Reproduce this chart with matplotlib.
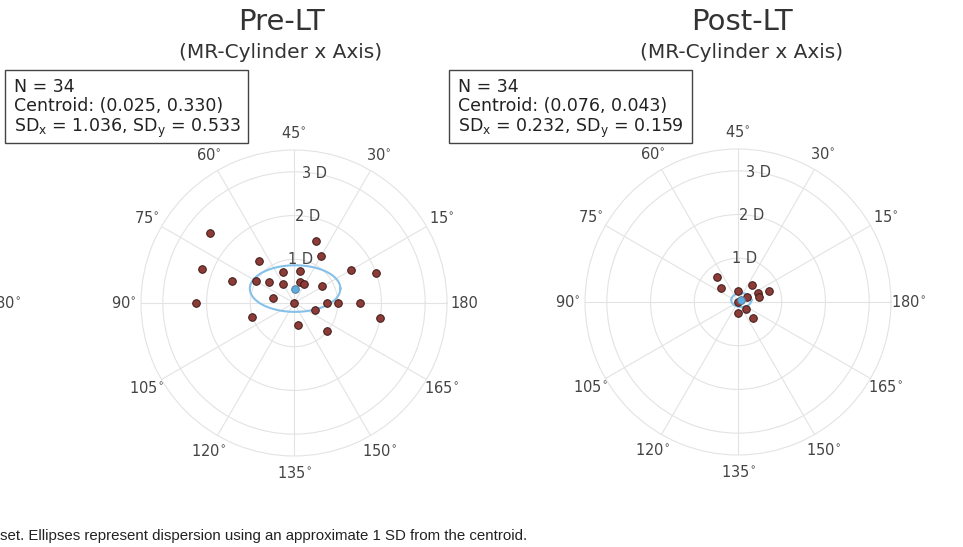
import numpy as np
import matplotlib
matplotlib.use('Agg')
import matplotlib.pyplot as plt
from matplotlib.patches import Rectangle

# cylinder magnitude (D) and axis (deg)
pre_cyl = [2.5, 1.5, 1.25, 1.25, 2.25, 0.75, 0.75, 1.5, 2.0, 1.5, 1.0, 0.75, 0.5, 0.5,
           0.5, 0.75, 2.25, 0.5, 0.0, 0.75, 1.0, 1.5, 0.5, 1.0, 2.0, 0.5, 1.0]
pre_axis = [70, 35, 30, 65, 80, 55, 40, 15, 10, 80, 75, 70, 60, 37,
            31, 16, 90, 84, 0, 180, 180, 180, 171, 99, 175, 140, 160]

post_cyl = [0.75, 0.5, 0.25, 0.5, 0.5, 0.5, 0.75, 0.0, 0.25, 0.25, 0.25, 0.5]
post_axis = [65, 70, 45, 25, 12, 7, 10, 0, 15, 160, 135, 157]

# summary stats shown in the boxes (double-angle x/y)
pre_n, pre_cx, pre_cy, pre_sdx, pre_sdy = 34, 0.025, 0.330, 1.036, 0.533
post_n, post_cx, post_cy, post_sdx, post_sdy = 34, 0.076, 0.043, 0.232, 0.159

axis_labels = [180, 15, 30, 45, 60, 75, 90, 105, 120, 135, 150, 165]
ring_vals = [1, 2, 3]

W, H = 963, 547
fig = plt.figure(figsize=(W / 100, H / 100), dpi=100)
fig.patch.set_facecolor('white')

grid_c = '#e3e3e3'
txt_c = '#444444'
pt_c = '#8c3b37'
blue = '#5dade2'


def px(x0, y0, w, h):
    # pixel box (top-left origin) -> figure fraction
    return [x0 / W, (H - y0 - h) / H, w / W, h / H]


def polar_panel(rect, cyl, axis, cx, cy, sdx, sdy, deg_on_180):
    ax = fig.add_axes(rect, projection='polar')
    theta = np.deg2rad(2 * np.array(axis, dtype=float))
    ax.set_ylim(0, 3.5)
    labs = []
    for a in axis_labels:
        if a == 180 and not deg_on_180:
            labs.append('180')
        else:
            labs.append(f'{a}' + r'$^{\circ}$')
    ax.set_thetagrids(np.arange(0, 360, 30), labs, fontsize=10.5, color=txt_c)
    ax.set_rgrids(ring_vals, [''] * len(ring_vals))
    for v in ring_vals:
        ax.text(np.deg2rad(81), v, f'{v} D', ha='center', va='center',
                fontsize=10.5, color=txt_c, zorder=2)
    ax.tick_params(axis='x', pad=2)
    ax.grid(color=grid_c, lw=0.8)
    ax.spines['polar'].set_color(grid_c)
    ax.spines['polar'].set_linewidth(0.8)

    # 1 SD ellipse about the centroid
    t = np.linspace(0, 2 * np.pi, 400)
    ex = cx + sdx * np.cos(t)
    ey = cy + sdy * np.sin(t)
    ax.plot(np.unwrap(np.arctan2(ey, ex)), np.hypot(ex, ey), color='#85c1e9',
            lw=1.5, zorder=3)

    ax.scatter(theta, cyl, s=30, color=pt_c, edgecolors='#3b1a17', linewidths=0.7,
               zorder=4)
    ax.scatter([np.arctan2(cy, cx)], [np.hypot(cx, cy)], s=30, color=blue,
               edgecolors='#557d99', linewidths=0.7, zorder=5)
    ax.set_ylim(0, 3.5)
    return ax


polar_panel(px(141, 150, 306, 306), pre_cyl, pre_axis,
            pre_cx, pre_cy, pre_sdx, pre_sdy, False)
polar_panel(px(585, 149, 306, 306), post_cyl, post_axis,
            post_cx, post_cy, post_sdx, post_sdy, True)

# titles
for xc, name in [(281, 'Pre-LT'), (742, 'Post-LT')]:
    fig.text(xc / W, 1 - 22 / H, name, ha='center', va='center', fontsize=21,
             color='#333333', family='DejaVu Sans')
    fig.text(xc / W, 1 - 52 / H, '(MR-Cylinder x Axis)', ha='center', va='center',
             fontsize=14.5, color='#333333', family='DejaVu Sans')

# stats boxes
for x0, n, cx, cy, sdx, sdy in [(5, pre_n, pre_cx, pre_cy, pre_sdx, pre_sdy),
                                (449, post_n, post_cx, post_cy, post_sdx, post_sdy)]:
    fig.add_artist(Rectangle((x0 / W, 1 - 143 / H), 243 / W, 73 / H,
                             transform=fig.transFigure, fill=False,
                             ec='#444444', lw=1))
    s = (f'N = {n}\nCentroid: ({cx:.3f}, {cy:.3f})\n'
         f'SD$_\\mathregular{{x}}$ = {sdx:.3f}, SD$_\\mathregular{{y}}$ = {sdy:.3f}')
    fig.text((x0 + 9) / W, 1 - 78 / H, s, ha='left', va='top', fontsize=12.5,
             color='#222222', linespacing=1.1)

# neighbouring panel cut off at the left edge
fig.text(21 / W, 1 - 303 / H, '180' + r'$^{\circ}$', ha='right', va='center',
         fontsize=10.5, color=txt_c)

fig.text(0 / W, 1 - 536 / H,
         'set. Ellipses represent dispersion using an approximate 1 SD from the centroid.',
         ha='left', va='center', fontsize=10.8, color='#222222', family='Liberation Sans')

fig.savefig('out.png', dpi=100)
